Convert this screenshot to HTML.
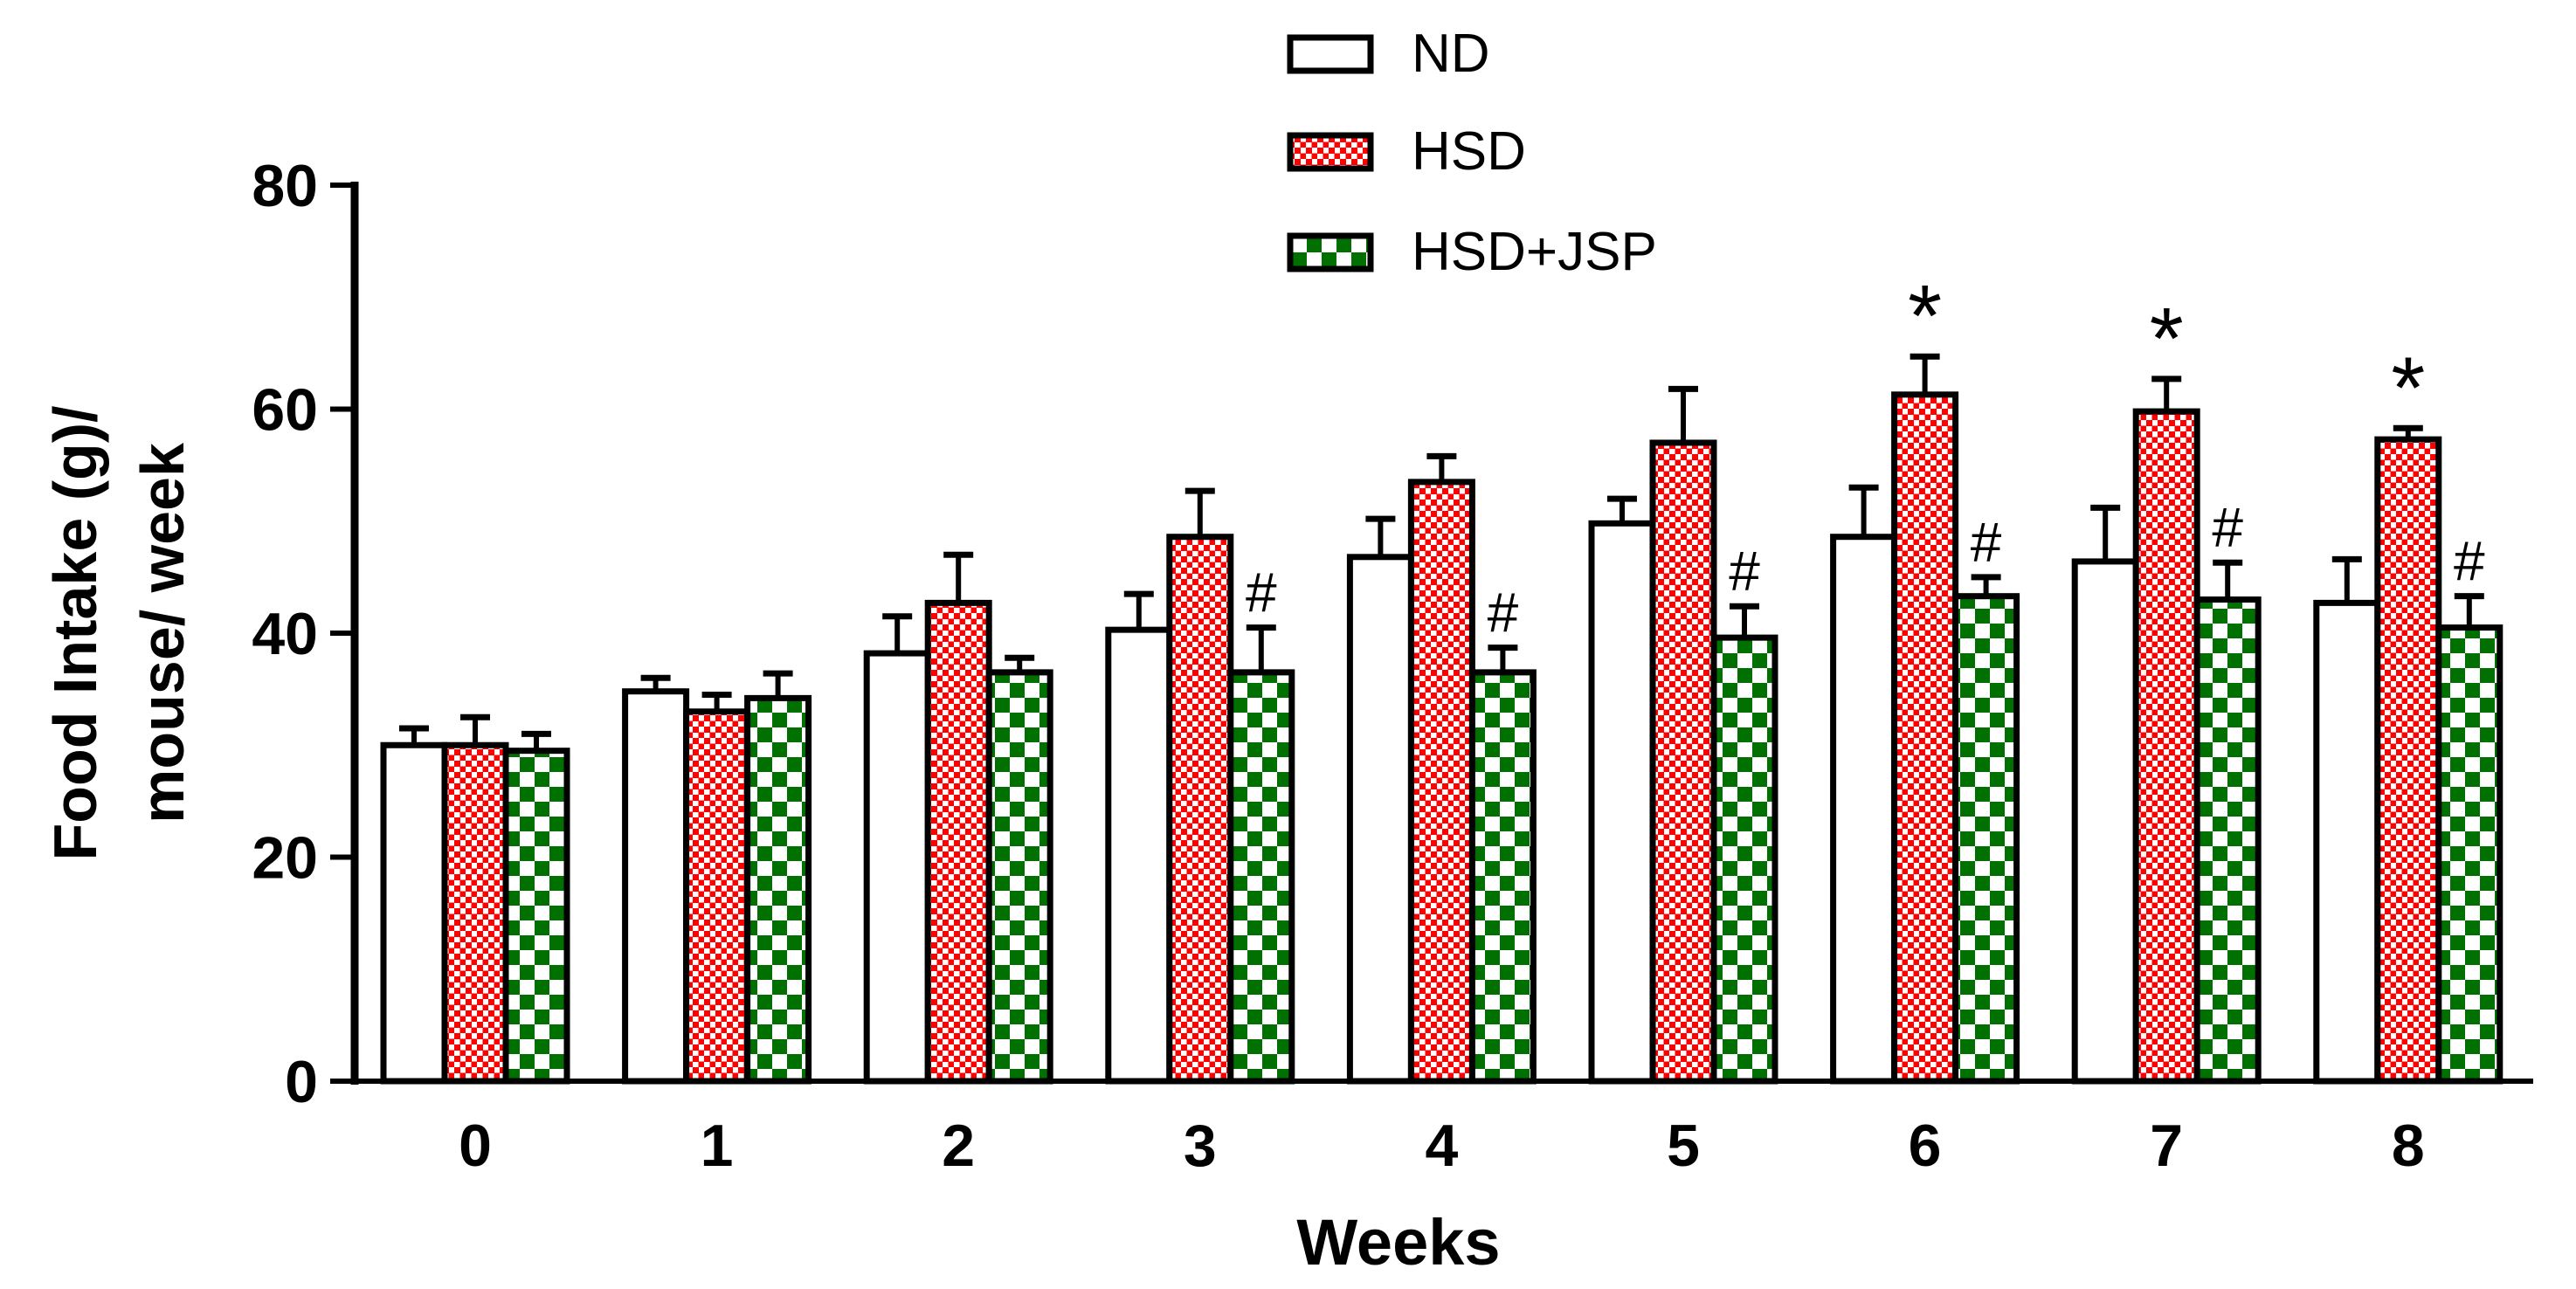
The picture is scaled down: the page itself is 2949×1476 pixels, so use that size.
<!DOCTYPE html>
<html><head><meta charset="utf-8"><style>
html,body{margin:0;padding:0;background:#fff;}
svg{display:block;font-family:"Liberation Sans",sans-serif;}
</style></head><body>
<svg id="chart" width="2949" height="1476" viewBox="0 0 2949 1476" xmlns="http://www.w3.org/2000/svg">
<defs>
<pattern id="redPat" width="13" height="13" patternUnits="userSpaceOnUse">
<rect width="13" height="13" fill="#fff"/>
<rect x="0" y="0" width="7" height="7" fill="#f00"/>
<rect x="6.5" y="6.5" width="7" height="7" fill="#f00"/>
</pattern>
<pattern id="greenPat" width="34" height="34" patternUnits="userSpaceOnUse">
<rect width="34" height="34" fill="#fff"/>
<rect x="0" y="0" width="17" height="17" fill="#007000"/>
<rect x="17" y="17" width="17" height="17" fill="#007000"/>
</pattern>
</defs>
<g id="bars"></g>
<g id="axes"></g>
<g id="legend">
<rect x="1477" y="43" width="92" height="38" fill="#fff" stroke="#000" stroke-width="7"/>
<text x="1616" y="82" font-size="62">ND</text>
<rect x="1477" y="155" width="92" height="38" fill="url(#redPat)" stroke="#000" stroke-width="7"/>
<text x="1616" y="194" font-size="62">HSD</text>
<rect x="1477" y="270" width="92" height="38" fill="url(#greenPat)" stroke="#000" stroke-width="7"/>
<text x="1616" y="309" font-size="62">HSD+JSP</text>
</g>
<text transform="translate(110,725) rotate(-90)" text-anchor="middle" font-size="70" font-weight="bold">Food Intake (g)/</text>
<text transform="translate(210,725) rotate(-90)" text-anchor="middle" font-size="70" font-weight="bold">mouse/ week</text>
<text x="1601" y="1448" text-anchor="middle" font-size="74" font-weight="bold">Weeks</text>
</svg>
<script>
const categories = ["0","1","2","3","4","5","6","7","8"];
const ndValues = [30, 34.8, 38.2, 40.3, 46.8, 49.8, 48.6, 46.4, 42.7];
const ndErrors = [1.5, 1.2, 3.3, 3.2, 3.4, 2.2, 4.4, 4.8, 3.9];
const hsdValues = [30, 33, 42.7, 48.6, 53.5, 57, 61.3, 59.8, 57.3];
const hsdErrors = [2.5, 1.5, 4.3, 4.1, 2.3, 4.8, 3.4, 2.9, 1.0];
const jspValues = [29.5, 34.2, 36.5, 36.5, 36.5, 39.6, 43.3, 43, 40.5];
const jspErrors = [1.5, 2.2, 1.3, 4.0, 2.2, 2.8, 1.7, 3.3, 2.8];
const hsdStars = [false,false,false,false,false,false,true,true,true];
const jspHashes = [false,false,false,true,true,true,true,true,true];
const yTicks = [0,20,40,60,80];

const NS="http://www.w3.org/2000/svg";
const X0=406, XEND=2900, Y0=1238, Y80=212;
function y(v){return Y0-(v/80)*(Y0-Y80);}
function xc(i){return 544+i*276.6;}
const BW=70;
function mk(tag,attrs,parent){const e=document.createElementNS(NS,tag);for(const k in attrs)e.setAttribute(k,attrs[k]);parent.appendChild(e);return e;}
const bars=document.getElementById('bars'), axes=document.getElementById('axes');
const series=[
 {name:'nd',vals:ndValues,errs:ndErrors,fill:'#fff'},
 {name:'hsd',vals:hsdValues,errs:hsdErrors,fill:'url(#redPat)'},
 {name:'hsd-jsp',vals:jspValues,errs:jspErrors,fill:'url(#greenPat)'}];
categories.forEach((c,i)=>{
 series.forEach((s,j)=>{
  const cx=xc(i)+(j-1)*BW;
  const top=y(s.vals[i]), et=y(s.vals[i]+s.errs[i]);
  const eb=mk('line',{x1:cx,x2:cx,y1:top,y2:et,stroke:'#000','stroke-width':6},bars);
  
  
  const cap=mk('line',{x1:cx-17,x2:cx+17,y1:et,y2:et,stroke:'#000','stroke-width':7},bars);
  
  
  const r=mk('rect',{x:cx-BW/2,y:top,width:BW,height:Y0-top,fill:s.fill,stroke:'#000','stroke-width':7},bars);
  
  
 });
 if(hsdStars[i]){
  const t=mk('text',{x:xc(i),y:y(hsdValues[i]+hsdErrors[i])-12,'text-anchor':'middle','font-size':100},bars);
  t.textContent='*';
  
  
 }
 if(jspHashes[i]){
  const t=mk('text',{x:xc(i)+BW,y:y(jspValues[i]+jspErrors[i])-18,'text-anchor':'middle','font-size':64},bars);
  t.textContent='#';
  
  
 }
 const lab=mk('text',{x:xc(i),y:1335,'text-anchor':'middle','font-size':68,'font-weight':'bold'},axes);
 lab.textContent=c;
 
 
});
const ya=mk('line',{x1:X0,x2:X0,y1:Y80-4,y2:Y0+4,stroke:'#000','stroke-width':9},axes);


const xa=mk('line',{x1:X0-28,x2:XEND,y1:Y0,y2:Y0,stroke:'#000','stroke-width':6},axes);


yTicks.forEach(t=>{
 const tk=mk('line',{x1:X0-28,x2:X0,y1:y(t),y2:y(t),stroke:'#000','stroke-width':6},axes);
 
 
 const tl=mk('text',{x:X0-42,y:y(t)+24,'text-anchor':'end','font-size':68,'font-weight':'bold'},axes);
 tl.textContent=t;
 
 
});
</script>
</body></html>
